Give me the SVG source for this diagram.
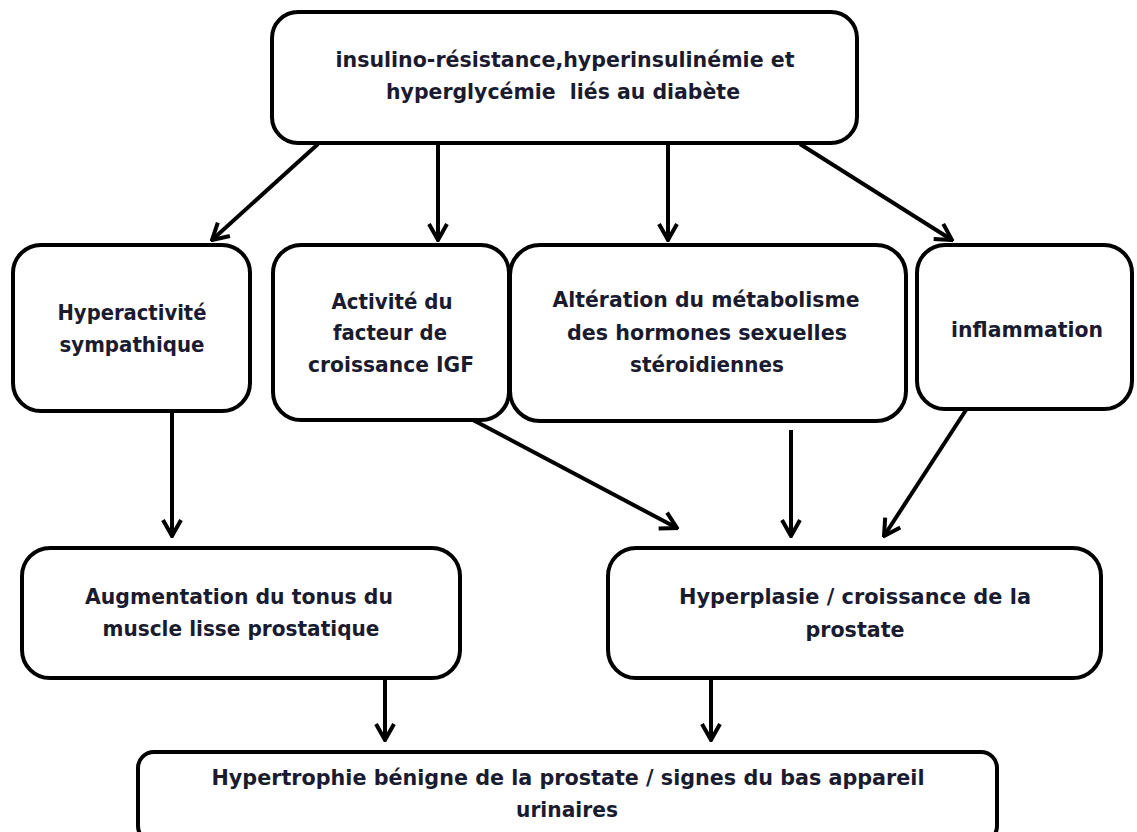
<svg xmlns="http://www.w3.org/2000/svg" width="1137" height="832" viewBox="0 0 1137 832">
<style>
.box{fill:#fff;stroke:#000;stroke-width:4}
.t{font-family:"DejaVu Sans","Liberation Sans",sans-serif;font-stretch:condensed;font-weight:bold;font-size:21.5px;fill:#1b1b30;text-anchor:middle}
.c{stroke:#000;stroke-width:4;fill:none}
</style>
<defs>
<marker id="ah" markerUnits="userSpaceOnUse" markerWidth="24" markerHeight="24" viewBox="-22 -12 24 24" refX="0" refY="0" orient="auto">
<path d="M-16,-9 L0,0 L-16,9" fill="none" stroke="#000" stroke-width="4" stroke-linejoin="miter"/>
</marker>
</defs>
<rect width="1137" height="832" fill="#fff"/>
<g id="connectors">
<line class="c" x1="318" y1="144" x2="212" y2="240" marker-end="url(#ah)"/>
<line class="c" x1="438" y1="144" x2="438" y2="240" marker-end="url(#ah)"/>
<line class="c" x1="668" y1="144" x2="668" y2="240" marker-end="url(#ah)"/>
<line class="c" x1="800" y1="144" x2="952" y2="240" marker-end="url(#ah)"/>
<line class="c" x1="172" y1="412" x2="172" y2="536" marker-end="url(#ah)"/>
<line class="c" x1="473" y1="420" x2="677" y2="528" marker-end="url(#ah)"/>
<line class="c" x1="791" y1="430" x2="791" y2="536" marker-end="url(#ah)"/>
<line class="c" x1="966" y1="410" x2="884" y2="536" marker-end="url(#ah)"/>
<line class="c" x1="385" y1="680" x2="385" y2="740" marker-end="url(#ah)"/>
<line class="c" x1="711" y1="680" x2="711" y2="740" marker-end="url(#ah)"/>
</g>
<g id="n-top">
<rect class="box" x="272" y="12" width="585" height="131" rx="26"/>
<text class="t" x="565" y="67" textLength="459" lengthAdjust="spacingAndGlyphs">insulino-résistance,hyperinsulinémie et</text>
<text class="t" x="563" y="99" textLength="354" lengthAdjust="spacingAndGlyphs" style="white-space:pre">hyperglycémie  liés au diabète</text>
</g>
<g id="n-hyperactivite">
<rect class="box" x="13" y="245" width="237" height="166" rx="28"/>
<text class="t" x="132" y="320" textLength="149" lengthAdjust="spacingAndGlyphs">Hyperactivité</text>
<text class="t" x="132" y="352" textLength="145" lengthAdjust="spacingAndGlyphs">sympathique</text>
</g>
<g id="n-igf">
<rect class="box" x="273" y="245" width="236" height="175" rx="28"/>
<text class="t" x="392" y="309" textLength="121" lengthAdjust="spacingAndGlyphs">Activité du</text>
<text class="t" x="390" y="340" textLength="114" lengthAdjust="spacingAndGlyphs">facteur de</text>
<text class="t" x="391" y="372" textLength="166" lengthAdjust="spacingAndGlyphs">croissance IGF</text>
</g>
<g id="n-alteration">
<rect class="box" x="510" y="245" width="396" height="176" rx="30"/>
<text class="t" x="706" y="307" textLength="307" lengthAdjust="spacingAndGlyphs">Altération du métabolisme</text>
<text class="t" x="707" y="340" textLength="280" lengthAdjust="spacingAndGlyphs">des hormones sexuelles</text>
<text class="t" x="707" y="372" textLength="154" lengthAdjust="spacingAndGlyphs">stéroidiennes</text>
</g>
<g id="n-inflammation">
<rect class="box" x="917" y="245" width="215" height="164" rx="28"/>
<text class="t" x="1027" y="337" textLength="152" lengthAdjust="spacingAndGlyphs">inflammation</text>
</g>
<g id="n-augmentation">
<rect class="box" x="22" y="548" width="438" height="130" rx="28"/>
<text class="t" x="239" y="604" textLength="308" lengthAdjust="spacingAndGlyphs">Augmentation du tonus du</text>
<text class="t" x="241" y="636" textLength="277" lengthAdjust="spacingAndGlyphs">muscle lisse prostatique</text>
</g>
<g id="n-hyperplasie">
<rect class="box" x="608" y="548" width="493" height="130" rx="28"/>
<text class="t" x="855" y="604" textLength="352" lengthAdjust="spacingAndGlyphs">Hyperplasie / croissance de la</text>
<text class="t" x="855" y="637" textLength="99" lengthAdjust="spacingAndGlyphs">prostate</text>
</g>
<g id="n-hbp">
<rect class="box" x="138" y="752" width="859" height="90" rx="16"/>
<text class="t" x="568" y="785" textLength="713" lengthAdjust="spacingAndGlyphs">Hypertrophie bénigne de la prostate / signes du bas appareil</text>
<text class="t" x="567" y="817" textLength="102" lengthAdjust="spacingAndGlyphs">urinaires</text>
</g>
</svg>
